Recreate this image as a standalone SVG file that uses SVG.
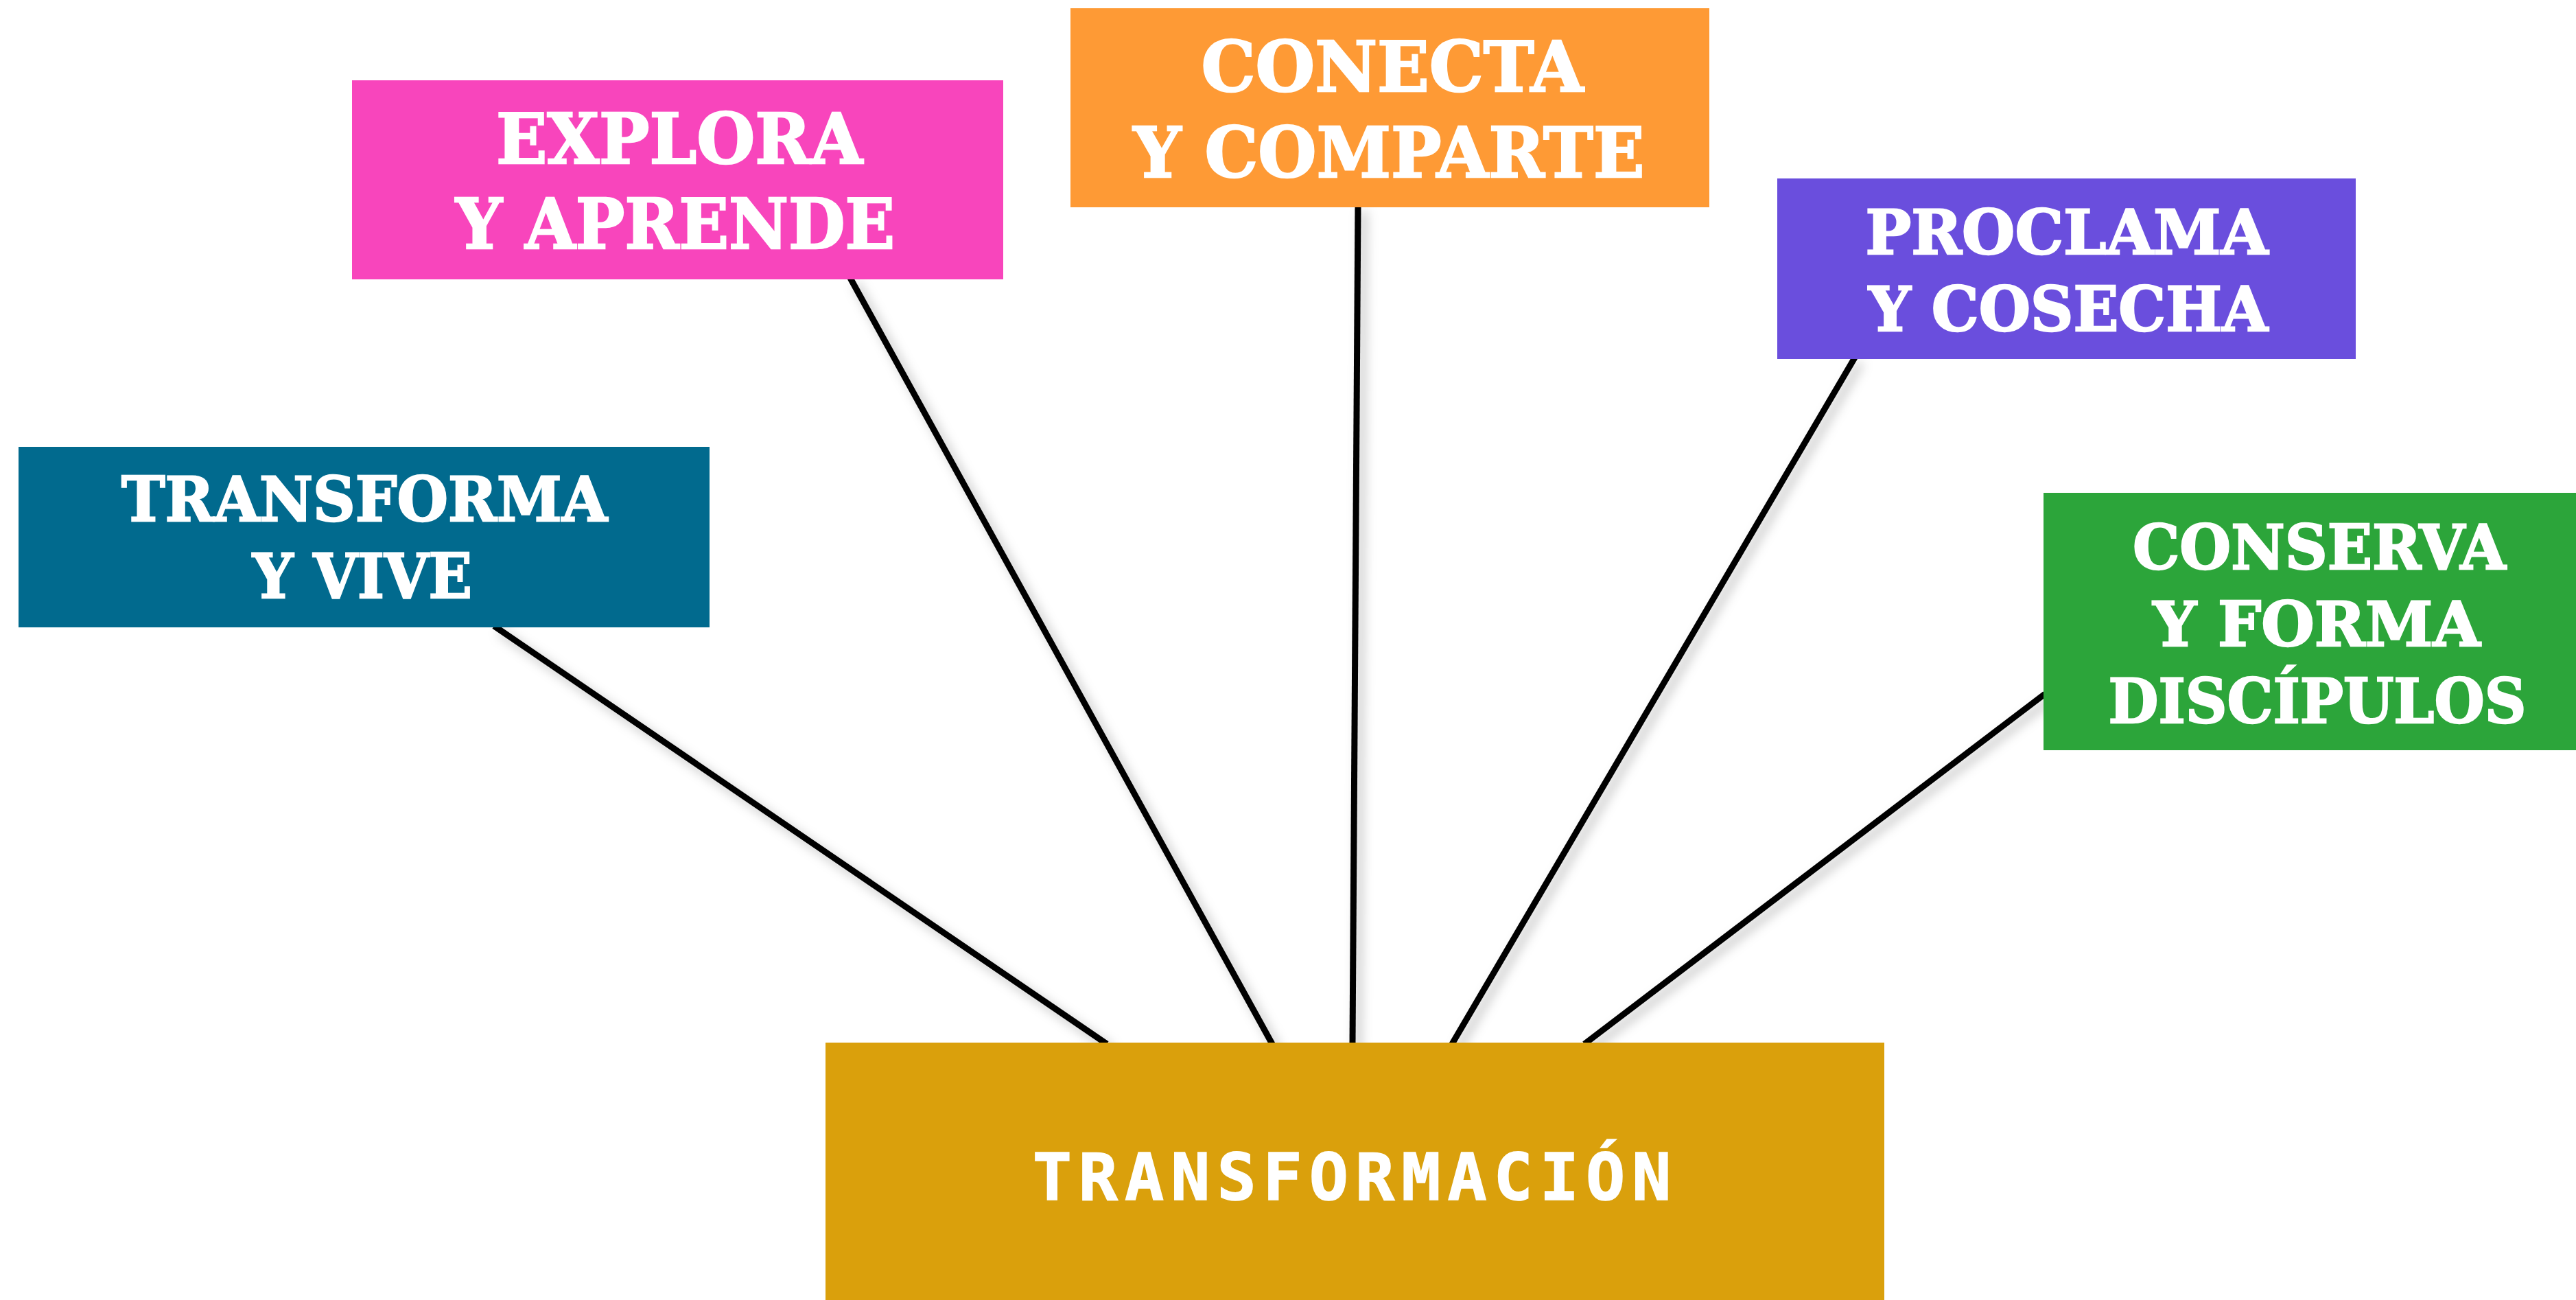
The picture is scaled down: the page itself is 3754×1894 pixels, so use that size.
<svg xmlns="http://www.w3.org/2000/svg" width="3754" height="1894" viewBox="0 0 3754 1894">
  <defs>
    <filter id="shadow" x="-20%" y="-20%" width="140%" height="140%">
      <feDropShadow dx="8" dy="8" stdDeviation="8" flood-color="#000" flood-opacity="0.25"/>
    </filter>
  </defs>
  <style>
    .conn { stroke: #000; stroke-width: 9; fill: none; stroke-linecap: butt; }
    .lbl { font-family: "DejaVu Serif", "Liberation Serif", serif; font-weight: bold; fill: #fff; stroke: #fff; stroke-width: 2.5; text-anchor: middle; }
    .main { font-family: "DejaVu Sans Mono", "Liberation Mono", monospace; font-weight: bold; fill: #fff; stroke: #fff; stroke-width: 1.5; text-anchor: middle; }
  </style>
  <rect width="3754" height="1894" fill="#fff"/>
  <g id="connectors" filter="url(#shadow)">
    <line class="conn" x1="720" y1="912" x2="1613" y2="1521"/>
    <line class="conn" x1="1239" y1="405" x2="1854" y2="1521"/>
    <line class="conn" x1="1979" y1="300" x2="1971" y2="1521"/>
    <line class="conn" x1="2703" y1="521" x2="2116" y2="1521"/>
    <line class="conn" x1="2980" y1="1011" x2="2309" y2="1521"/>
  </g>
  <g id="transforma">
    <rect x="27" y="651" width="1007" height="263" fill="#016A8E"/>
    <text class="lbl" font-size="89" x="531" y="759" textLength="708" lengthAdjust="spacingAndGlyphs">TRANSFORMA</text>
    <text class="lbl" font-size="89" x="528" y="871" textLength="320" lengthAdjust="spacingAndGlyphs">Y VIVE</text>
  </g>
  <g id="explora">
    <rect x="513" y="117" width="949" height="290" fill="#F845BC"/>
    <text class="lbl" font-size="101" x="990" y="238" textLength="534" lengthAdjust="spacingAndGlyphs">EXPLORA</text>
    <text class="lbl" font-size="101" x="984" y="362" textLength="640" lengthAdjust="spacingAndGlyphs">Y APRENDE</text>
  </g>
  <g id="conecta">
    <rect x="1560" y="12" width="931" height="290" fill="#FE9A35"/>
    <text class="lbl" font-size="101" x="2029" y="133" textLength="557" lengthAdjust="spacingAndGlyphs">CONECTA</text>
    <text class="lbl" font-size="101" x="2024" y="258" textLength="745" lengthAdjust="spacingAndGlyphs">Y COMPARTE</text>
  </g>
  <g id="proclama">
    <rect x="2590" y="260" width="843" height="263" fill="#6A4EDD"/>
    <text class="lbl" font-size="89" x="3012" y="370" textLength="587" lengthAdjust="spacingAndGlyphs">PROCLAMA</text>
    <text class="lbl" font-size="89" x="3014" y="482" textLength="582" lengthAdjust="spacingAndGlyphs">Y COSECHA</text>
  </g>
  <g id="conserva">
    <rect x="2978" y="718" width="800" height="375" fill="#2CA53A"/>
    <text class="lbl" font-size="90" x="3380" y="829" textLength="544" lengthAdjust="spacingAndGlyphs">CONSERVA</text>
    <text class="lbl" font-size="90" x="3376" y="941" textLength="477" lengthAdjust="spacingAndGlyphs">Y FORMA</text>
    <text class="lbl" font-size="90" x="3377" y="1053" textLength="609" lengthAdjust="spacingAndGlyphs">DISCÍPULOS</text>
  </g>
  <g id="transformacion">
    <rect x="1203" y="1519" width="1543" height="380" fill="#DAA00C"/>
    <text class="main" font-size="95" x="1975" y="1748" letter-spacing="10">TRANSFORMACIÓN</text>
  </g>
</svg>
